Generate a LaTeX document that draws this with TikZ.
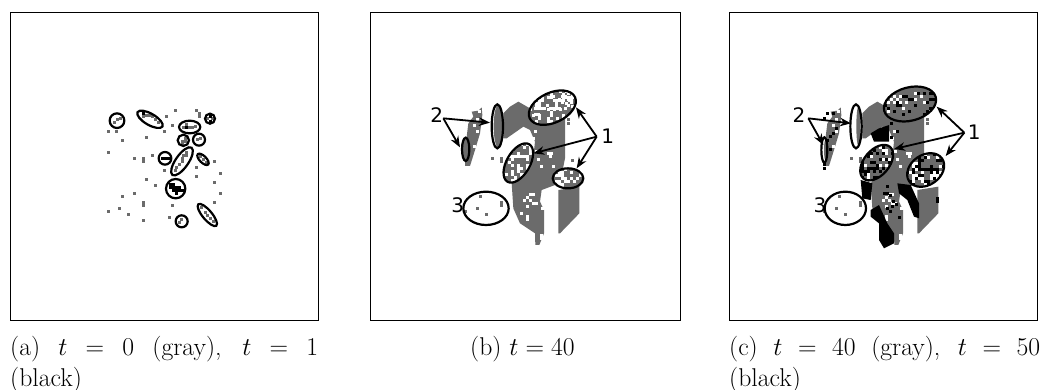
\documentclass[tikz,border=0pt]{standalone}
\usepackage{fix-cm}
\usepackage{fontspec}
\usetikzlibrary{arrows.meta}
\newfontfamily\lblfont{DejaVu Sans}
\definecolor{dgray}{gray}{0.42}
\tikzset{
  panelframe/.style={draw=black,line width=0.9pt,fill=white},
  ring/.style={draw=black,line width=2.2pt},
  arrowline/.style={draw=black,line width=1.8pt,-{Stealth[length=11pt,width=8.5pt]}},
  lbl/.style={font=\lblfont\fontsize{20}{22}\selectfont,inner sep=0pt},
  captext/.style={font=\fontsize{25.7}{31}\selectfont,inner sep=0pt,anchor=base west},
  zoomed/.style={x=0.33333pt,y=-0.33333pt}
}
\newcommand{\cellsat}[2]{\foreach \p/\q in {#2} \fill[#1] (\p-4.5,\q-4.5) rectangle ++(9,9);}
\newcommand{\speck}[6]{%
  \pgfmathtruncatemacro\nxa{#3+9}\pgfmathtruncatemacro\nxb{#5+9}%
  \foreach \p in {#3,\nxa,...,#4} \foreach \q in {#5,\nxb,...,#6} {%
    \pgfmathparse{rnd<#2?1:0}\ifnum\pgfmathresult=1 \fill[#1] (\p-4.5,\q-4.5) rectangle ++(9,9);\fi}}
\newcommand{\grayshape}{%
  \fill[dgray] (250,130)--(270,110)--(295,95)--(335,118)--(340,150)--(435,130)--(435,265)--(428,300)--(405,345)--(365,360)--(360,395)--(372,420)--(372,490)--(358,525)--(346,525)--(345,490)--(300,460)--(280,415)--(275,340)--(340,260)--(345,215)--(330,180)--(310,170)--(260,205)--(250,205)--cycle;
  \fill[dgray] (415,360)--(478,350)--(478,430)--(420,490)--(415,490)--cycle;
  \fill[dgray] (155,125)--(175,122)--(185,112)--(187,135)--(180,190)--(165,240)--(150,288)--(135,288)--(135,255)--(140,200)--(145,160)--(160,140)--cycle;
  \cellsat{dgray}{217/265,244/265,244/274,181/380,244/398,244/407,172/416,199/434,136/425,457/272,445/150,445/160,354/226}
  \cellsat{white}{345/185,340/205,350/245,385/250,394/250,355/270,365/290,330/375,339/375,321/384,312/393,330/393,339/402,321/411,348/402,366/415,305/430,323/440,323/450,364/497,364/506,172/185,163/230,172/150,163/168,177/125,390/260,399/290}
}
\begin{document}
\begin{tikzpicture}[x=1pt,y=-1pt]
\useasboundingbox (0,0) rectangle (1040,390);
\path[panelframe] (10,12) rectangle (318,320);
\path[panelframe] (370,12) rectangle (680,320);
\path[panelframe] (729,12) rectangle (1037,320);

% panel a
\begin{scope}[shift={(90,90)},zoomed]
\cellsat{dgray}{257/63,318/63,327/72,327/81,230/81,248/108,222/126,54/126,80/126,98/153,168/144,54/187,133/205,159/205,159/214,186/197,222/241,319/232,319/259,372/214,390/250,372/277,168/268,195/286,133/312,98/321,390/312,372/339,159/339,159/348,248/348,88/357,54/366,115/375,159/392,239/383}
\cellsat{dgray}{81/90,90/85,72/99,159/81,168/76,177/78,186/81,195/90,204/99,352/86,368/86,281/114,290/105,299/114,308/114,317/110,285/145,276/155,285/154,276/163,332/145,323/150,290/187,280/196,290/196,277/205,277/214,268/223,259/232,255/243,331/200,340/208,348/217,275/390,268/399,335/354,345/368,352/377,360/385,370/394}
\cellsat{black}{159/72,360/81,360/94,290/114,225/205,234/205,216/205,240/285,249/285,240/294,249/294,258/294,267/294,249/303,258/303,267/303,276/303,258/312}
\draw[ring] (81,92) circle (22);
\draw[ring,rotate around={-30:(180,88)}] (180,88) ellipse (43 and 17);
\draw[ring] (360,86) circle (15);
\draw[ring] (299,111) ellipse (32 and 19);
\draw[ring] (280,151) circle (17);
\draw[ring] (327,149) circle (18);
\draw[ring] (225,205) circle (19);
\draw[ring,rotate around={55:(276,214)}] (276,214) ellipse (50 and 19);
\draw[ring,rotate around={-45:(339,208)}] (339,208) ellipse (22 and 10);
\draw[ring] (257,296) circle (29);
\draw[ring] (275,394) circle (18);
\draw[ring,rotate around={-50:(352,375)}] (352,375) ellipse (42 and 14);
\end{scope}

% panel b
\begin{scope}[shift={(420,70)},zoomed]
\grayshape
\pgfmathsetseed{11}
\begin{scope}
\clip[rotate around={25:(397,113)}] (397,113) ellipse (75 and 45);
\fill[dgray] (320,60) rectangle (480,170);
\speck{white}{0.22}{330}{470}{65}{165}
\cellsat{white}{345/115,354/115,363/115,372/115,381/106,390/115,399/115,408/115,417/115,408/106,408/97,417/88,399/79,426/97,426/79,435/79,444/70,444/88,453/88,453/97,444/106,435/115,345/133,354/133}
\end{scope}
\begin{scope}
\clip[rotate around={60:(295,279)}] (295,279) ellipse (65 and 35);
\fill[dgray] (240,210) rectangle (345,345);
\speck{white}{0.38}{250}{340}{215}{340}
\end{scope}
\begin{scope}
\clip (444,325) ellipse (46 and 30);
\fill[dgray] (395,295) rectangle (495,355);
\speck{white}{0.38}{400}{490}{298}{352}
\end{scope}
\fill[white] (232,169) ellipse (17 and 66);
\fill[dgray] (235,169) ellipse (14 and 64);
\fill[dgray] (137,238) ellipse (11 and 35);
\draw[ring,rotate around={25:(397,113)}] (397,113) ellipse (75 and 45);
\draw[ring,rotate around={60:(295,279)}] (295,279) ellipse (65 and 35);
\draw[ring] (444,325) ellipse (46 and 30);
\draw[ring] (232,169) ellipse (17 and 66);
\draw[ring] (137,238) ellipse (11 and 35);
\draw[ring] (198,415) ellipse (68 and 50);
\node[lbl] (btwo) at (50,135) {2};
\node[lbl] (bone) at (563,200) {1};
\node[lbl] (bthree) at (113,405) {3};
\coordinate (bt1) at (468,112);
\coordinate (bt2) at (340,250);
\coordinate (bt3) at (470,295);
\coordinate (bt4) at (210,158);
\coordinate (bt5) at (120,232);
\coordinate (bs1) at (530,200);
\coordinate (bs2) at (70,145);
\draw[arrowline] (bs1) -- (bt1);
\draw[arrowline] (bs1) -- (bt2);
\draw[arrowline] (bs1) -- (bt3);
\draw[arrowline] (bs2) -- (bt4);
\draw[arrowline] (bs2) -- (bt5);
\end{scope}

% panel c
\begin{scope}[shift={(779,70)},zoomed]
\grayshape
\pgfmathsetseed{23}
\fill[black] (275,190)--(300,175)--(330,165)--(330,215)--(285,215)--cycle;
\fill[black] (245,330)--(280,340)--(275,390)--(250,385)--cycle;
\fill[black] (275,420)--(300,405)--(325,460)--(345,490)--(345,520)--(315,535)--(300,510)--(300,460)--(275,440)--cycle;
\fill[black] (355,340)--(395,345)--(420,400)--(420,445)--(405,440)--(385,390)--(360,370)--cycle;
\cellsat{black}{145/130,163/130,136/145,172/175,163/190,154/200,145/212,136/295,136/285,154/238,336/160,354/184,336/202,315/370,324/370,333/378,342/396,351/405,324/415,333/424,360/442,475/385,475/394,340/410,325/350}
\begin{scope}
\clip[rotate around={15:(393,102)}] (393,102) ellipse (80 and 50);
\fill[dgray] (310,50) rectangle (480,160);
\speck{black}{0.22}{320}{475}{70}{140}
\speck{white}{0.14}{320}{475}{70}{130}
\end{scope}
\begin{scope}
\clip[rotate around={50:(293,278)}] (293,278) ellipse (62 and 38);
\fill[dgray] (230,210) rectangle (350,345);
\speck{black}{0.42}{240}{340}{215}{340}
\speck{white}{0.15}{240}{340}{215}{340}
\end{scope}
\begin{scope}
\clip[rotate around={35:(440,300)}] (440,300) ellipse (60 and 45);
\fill[dgray] (380,250) rectangle (500,350);
\speck{white}{0.3}{385}{495}{255}{345}
\speck{black}{0.3}{385}{495}{255}{345}
\end{scope}
\fill[white] (231,169) ellipse (17 and 66);
\fill[dgray] (238,169) ellipse (6 and 58);
\fill[white] (136,240) ellipse (9 and 38);
\fill[dgray] (139,240) ellipse (4 and 30);
\draw[ring,rotate around={15:(393,102)}] (393,102) ellipse (80 and 50);
\draw[ring,rotate around={50:(293,278)}] (293,278) ellipse (62 and 38);
\draw[ring,rotate around={35:(440,300)}] (440,300) ellipse (60 and 45);
\draw[ring] (231,169) ellipse (17 and 66);
\draw[ring] (136,240) ellipse (9 and 38);
\draw[ring] (199,415) ellipse (62 and 50);
\node[lbl] (ctwo) at (60,135) {2};
\node[lbl] (cone) at (586,187) {1};
\node[lbl] (cthree) at (123,407) {3};
\coordinate (ct1) at (473,110);
\coordinate (ct2) at (345,237);
\coordinate (ct3) at (500,258);
\coordinate (ct4) at (216,160);
\coordinate (ct5) at (133,225);
\coordinate (cs1) at (556,188);
\coordinate (cs2) at (88,145);
\draw[arrowline] (cs1) -- (ct1);
\draw[arrowline] (cs1) -- (ct2);
\draw[arrowline] (cs1) -- (ct3);
\draw[arrowline] (cs2) -- (ct4);
\draw[arrowline] (cs2) -- (ct5);
\end{scope}

\node[captext] (capa) at (10,355) {\makebox[308pt][s]{(a) $t$ $=$ $0$ (gray), $t$ $=$ $1$}};
\node[captext] (capa2) at (10,386) {(black)};
\node[captext] (capb) at (470,355) {(b) $t=40$};
\node[captext] (capc) at (729,355) {\makebox[311pt][s]{(c) $t$ $=$ $40$ (gray), $t$ $=$ $50$}};
\node[captext] (capc2) at (729,386) {(black)};
\end{tikzpicture}
\end{document}
